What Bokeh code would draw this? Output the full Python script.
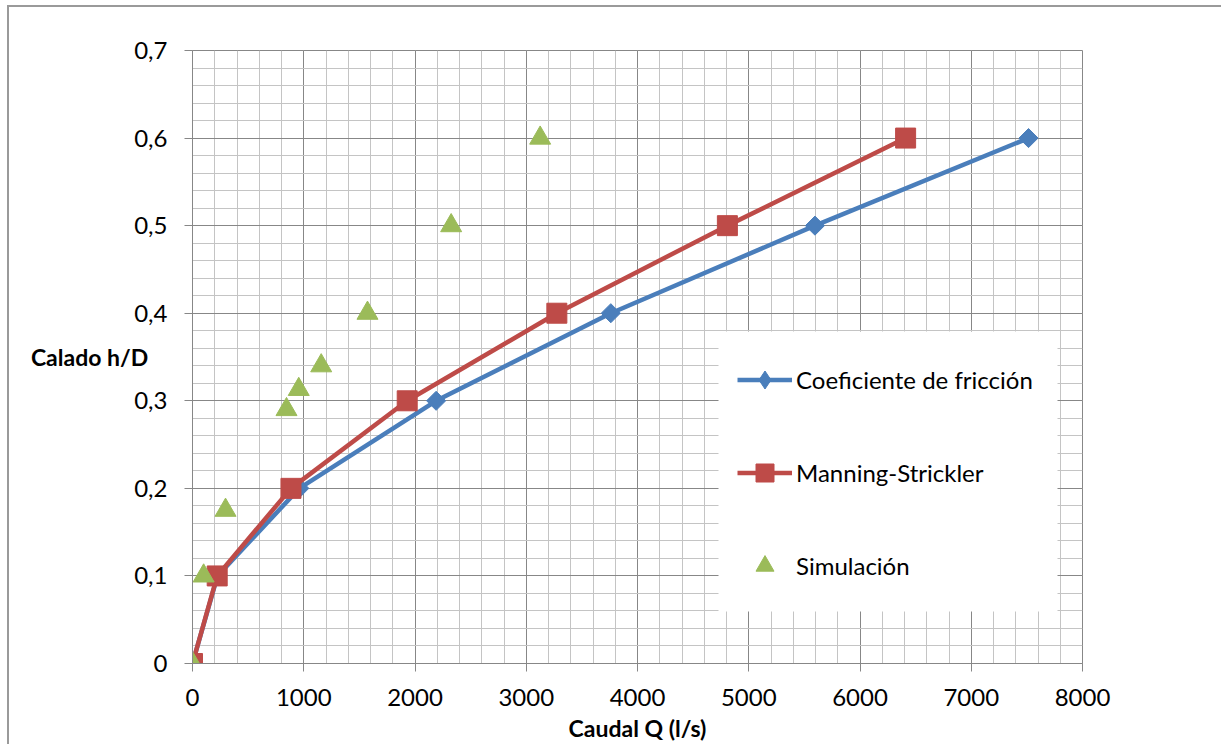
import numpy as np
from bokeh.plotting import figure
from bokeh.models import (FixedTicker, CustomJSTickFormatter, Legend, LegendItem,
                          Range1d, InlineStyleSheet, BoxAnnotation)
from bokeh.embed import file_html
from bokeh.resources import INLINE

# ---- data ----
h_levels = [0, 0.1, 0.2, 0.3, 0.4, 0.5, 0.6]
q_friccion = [0, 225, 960, 2190, 3760, 5595, 7515]
q_manning = [0, 222, 885, 1930, 3275, 4808, 6410]

q_sim = [0, 100, 297, 845, 955, 1157, 1573, 2325, 3125]
h_sim = [0, 0.1, 0.175, 0.29, 0.313, 0.34, 0.4, 0.5, 0.6]

x_ticks = [0, 1000, 2000, 3000, 4000, 5000, 6000, 7000, 8000]
y_ticks = [0, 0.1, 0.2, 0.3, 0.4, 0.5, 0.6, 0.7]

x_label = "Caudal Q (l/s)"
y_label = "Calado h/D"
names = ["Coeficiente de fricción", "Manning-Strickler", "Simulación"]

FONT = "Lato"
BLUE = "#4A7EBB"
RED = "#BE4B48"
GREEN = "#9BBB59"

x_minor = [round(i * 200) for i in range(41)]
y_minor = [round(i * 0.02, 2) for i in range(36)]

p = figure(width=1221, height=744, output_backend="svg", toolbar_location=None,
           x_range=Range1d(0, 8000), y_range=Range1d(0, 0.7),
           min_border_left=192, min_border_right=139, min_border_top=50, min_border_bottom=79)
p.background_fill_color = "white"
p.border_fill_color = "white"
p.outline_line_color = "#878787"
p.outline_line_width = 1
# a range far away from the data, used only for the legend's diamond glyph
p.extra_y_ranges = {"legend_only": Range1d(100, 101)}

# axes
p.xaxis.ticker = FixedTicker(ticks=x_ticks, minor_ticks=x_minor)
p.yaxis.ticker = FixedTicker(ticks=y_ticks, minor_ticks=y_minor)
p.yaxis.formatter = CustomJSTickFormatter(
    code="return Math.abs(tick) < 1e-9 ? '0' : tick.toFixed(1).replace('.', ',');")
for ax in (p.xaxis, p.yaxis):
    ax.axis_line_color = "#878787"
    ax.major_tick_line_color = "#878787"
    ax.major_tick_out = 8
    ax.major_tick_in = 0
    ax.minor_tick_out = 0
    ax.minor_tick_in = 0
    ax.major_label_text_font = FONT
    ax.major_label_text_font_size = "24px"
    ax.major_label_text_color = "black"
    ax.axis_label_text_font = FONT
    ax.axis_label_text_font_size = "23px"
    ax.axis_label_text_font_style = "bold"
    ax.axis_label_text_color = "black"
p.xaxis.axis_label = x_label
p.yaxis.axis_label = y_label
p.xaxis.major_label_standoff = 17
p.xaxis.axis_label_standoff = 5
p.yaxis.major_label_standoff = 17
p.yaxis.axis_label_orientation = "horizontal"
p.yaxis.axis_label_standoff = -17

# grid
for g in (p.xgrid, p.ygrid):
    g.grid_line_color = "#878787"
    g.grid_line_width = 1
    g.minor_grid_line_color = "#c4c4c4"
    g.minor_grid_line_width = 1

# series
l1 = p.line(q_friccion, h_levels, line_color=BLUE, line_width=4.5)
m1 = p.scatter(q_friccion, h_levels, marker="square", angle=np.pi / 4, size=13.5,
               fill_color=BLUE, line_color=BLUE)
l2 = p.line(q_manning, h_levels, line_color=RED, line_width=4.5)
m2 = p.scatter(q_manning, h_levels, marker="square", size=20, fill_color=RED, line_color=RED)
m3 = p.scatter(q_sim, h_sim, marker="triangle", size=21, fill_color=GREEN, line_color=GREEN)
# legend-only diamond glyph (legend glyphs ignore marker angle); mapped to an off-screen range
m1_leg = p.scatter(q_friccion, h_levels, marker="diamond", size=20,
                   fill_color=BLUE, line_color=BLUE, y_range_name="legend_only")

# legend background box (screen units)
p.add_layout(BoxAnnotation(left=526, right=865, bottom=52, top=332,
                           left_units="screen", right_units="screen",
                           bottom_units="screen", top_units="screen",
                           fill_color="white", fill_alpha=1, line_color=None))

legend = Legend(items=[LegendItem(label=names[0], renderers=[l1, m1_leg]),
                       LegendItem(label=names[1], renderers=[l2, m2]),
                       LegendItem(label=names[2], renderers=[m3])],
                location=(545, 69), orientation="vertical",
                label_text_font=FONT, label_text_font_size="24px", label_text_color="black",
                glyph_width=55, glyph_height=45, label_height=58, spacing=35, padding=0,
                label_standoff=4, margin=0,
                border_line_color=None, background_fill_color="white", background_fill_alpha=1)
p.add_layout(legend, "center")

p.stylesheets = [InlineStyleSheet(css="""
:host::after { content: ''; position: absolute; left: 7px; top: 5px; width: 1214px; height: 739px;
  border-left: 2px solid #9a9a9a; border-top: 2px solid #9a9a9a; box-sizing: border-box;
  pointer-events: none; }
""")]

open("out.html", "w").write(file_html(p, INLINE))
